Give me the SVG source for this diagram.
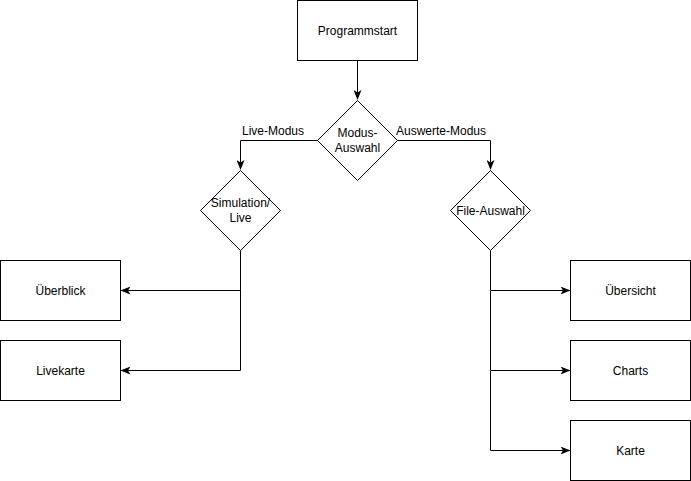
<svg xmlns="http://www.w3.org/2000/svg" width="691" height="481" viewBox="0 0 691 481">
<style>
.n{fill:#fff;stroke:#000;stroke-width:1}
.t{font-family:"Liberation Sans",Arial,sans-serif;font-size:12px;fill:#000;text-anchor:middle}
.e{fill:none;stroke:#000;stroke-width:1}
</style>
<defs>
<marker id="a" viewBox="0 0 10 8" refX="9" refY="4" markerWidth="10" markerHeight="8" markerUnits="userSpaceOnUse" orient="auto">
<path d="M0,0 L10,4 L0,8 L2.5,4 Z" fill="#000"/>
</marker>
</defs>
<rect width="691" height="481" fill="#fff"/>
<g id="edges">
<path class="e" d="M357.5,60.5 V99" marker-end="url(#a)"/>
<path class="e" d="M317.5,140.5 H240.5 V169" marker-end="url(#a)"/>
<path class="e" d="M397.5,140.5 H490.5 V169" marker-end="url(#a)"/>
<path class="e" d="M240.5,250.5 V290.5 H121.5" marker-end="url(#a)"/>
<path class="e" d="M240.5,290.5 V370.5 H121.5" marker-end="url(#a)"/>
<path class="e" d="M490.5,250.5 V290.5 H569.5" marker-end="url(#a)"/>
<path class="e" d="M490.5,290.5 V370.5 H569.5" marker-end="url(#a)"/>
<path class="e" d="M490.5,370.5 V450.5 H569.5" marker-end="url(#a)"/>
<text class="t" x="273" y="135">Live-Modus</text>
<text class="t" x="441" y="135">Auswerte-Modus</text>
</g>
<g id="programmstart">
<rect class="n" x="297.5" y="0.5" width="120" height="60"/>
<text class="t" x="357.5" y="34.5">Programmstart</text>
</g>
<g id="modus">
<path class="n" d="M357.5,100.5 L397.5,140.5 L357.5,180.5 L317.5,140.5 Z"/>
<text class="t" x="357.5" y="137">Modus-</text>
<text class="t" x="357.5" y="152">Auswahl</text>
</g>
<g id="simulation">
<path class="n" d="M240.5,170.5 L280.5,210.5 L240.5,250.5 L200.5,210.5 Z"/>
<text class="t" x="240.5" y="207">Simulation/</text>
<text class="t" x="240.5" y="222">Live</text>
</g>
<g id="fileauswahl">
<path class="n" d="M490.5,170.5 L530.5,210.5 L490.5,250.5 L450.5,210.5 Z"/>
<text class="t" x="490.5" y="214.5">File-Auswahl</text>
</g>
<g id="ueberblick">
<rect class="n" x="0.5" y="260.5" width="120" height="60"/>
<text class="t" x="60.5" y="294.5">Überblick</text>
</g>
<g id="livekarte">
<rect class="n" x="0.5" y="340.5" width="120" height="60"/>
<text class="t" x="60.5" y="374.5">Livekarte</text>
</g>
<g id="uebersicht">
<rect class="n" x="570.5" y="260.5" width="120" height="60"/>
<text class="t" x="630.5" y="294.5">Übersicht</text>
</g>
<g id="charts">
<rect class="n" x="570.5" y="340.5" width="120" height="60"/>
<text class="t" x="630.5" y="374.5">Charts</text>
</g>
<g id="karte">
<rect class="n" x="570.5" y="420.5" width="120" height="60"/>
<text class="t" x="630.5" y="454.5">Karte</text>
</g>
</svg>
